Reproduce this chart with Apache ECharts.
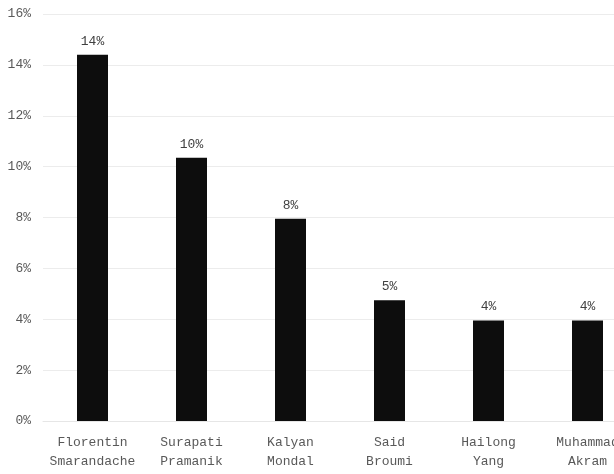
<!DOCTYPE html>
<html><head><meta charset="utf-8">
<script src="https://cdn.jsdelivr.net/npm/echarts@6/dist/echarts.min.js"></script>
<style>html,body{margin:0;padding:0;background:#fff;overflow:hidden}#c{width:640px;height:474px}</style>
</head><body><div id="c"></div>
<script>
var categories = ["Florentin\nSmarandache", "Surapati\nPramanik", "Kalyan\nMondal", "Said\nBroumi", "Hailong\nYang", "Muhammad\nAkram"];
var values = [14.4, 10.35, 7.95, 4.75, 3.95, 3.95];
var yTicks = [0, 2, 4, 6, 8, 10, 12, 14, 16];
var font = "'Liberation Mono', 'DejaVu Sans Mono', monospace";
var chart = echarts.init(document.getElementById('c'));
chart.setOption({
  animation: false,
  grid: {left: 43, top: 14, width: 594, height: 407, containLabel: false},
  xAxis: {
    type: 'category', data: categories,
    axisLine: {show: true, lineStyle: {color: '#e6e6e6'}},
    axisTick: {show: false},
    axisLabel: {color: '#595959', fontFamily: font, fontSize: 13, lineHeight: 19, margin: 12, interval: 0}
  },
  yAxis: {
    type: 'value', min: yTicks[0], max: yTicks[yTicks.length-1], interval: 2,
    axisLine: {show: false}, axisTick: {show: false},
    splitLine: {lineStyle: {color: '#ececec'}},
    axisLabel: {color: '#595959', fontFamily: font, fontSize: 13, margin: 12, formatter: function(v){return v + '%';}}
  },
  series: [{
    type: 'bar', data: values, barWidth: 31,
    itemStyle: {color: '#0d0d0d'},
    label: {show: true, position: 'top', distance: 7, color: '#404040', fontFamily: font, fontSize: 13,
      formatter: function(p){return Math.round(p.value) + '%';}}
  }]
});
</script></body></html>
